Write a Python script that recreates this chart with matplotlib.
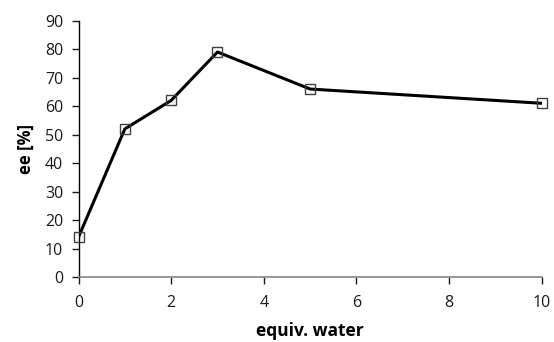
import matplotlib
matplotlib.use('Agg')
import matplotlib.pyplot as plt

# ee vs equivalents of water
water = [0, 1, 2, 3, 5, 10]
ee = [14, 52, 62, 79, 66, 61]
x_ticks = [0, 2, 4, 6, 8, 10]
y_ticks = list(range(0, 100, 10))

plt.rcParams['font.family'] = ['Open Sans', 'DejaVu Sans']

fig = plt.figure(figsize=(5.54, 3.42), dpi=100)
ax = fig.add_axes([0.1417, 0.190, 0.978 - 0.1417, 0.7495])

ax.plot(water, ee, color='black', linewidth=2.2, zorder=2)
ax.plot(water, ee, linestyle='none', marker='s', markersize=7.5,
        markerfacecolor='none', markeredgecolor='#404040',
        markeredgewidth=1, zorder=3, clip_on=False)

ax.set_xlim(0, 10)
ax.set_ylim(0, 90)
ax.set_xticks(x_ticks)
ax.set_yticks(y_ticks)

for side in ('top', 'right'):
    ax.spines[side].set_visible(False)
ax.spines['left'].set_color('black')
ax.spines['bottom'].set_color('#868686')
ax.spines['left'].set_linewidth(1)
ax.spines['bottom'].set_linewidth(1.2)
ax.tick_params(axis='both', direction='out', length=5, width=1, labelsize=11.5,
               colors='#1a1a1a')
ax.tick_params(axis='x', pad=8)
ax.tick_params(axis='y', pad=6)

ax.set_xlabel('equiv. water', fontsize=12.5, fontweight='bold', labelpad=8)
ax.set_ylabel('ee [%]', fontsize=12, fontweight='bold', labelpad=7)

fig.savefig('out.png', dpi=100)
